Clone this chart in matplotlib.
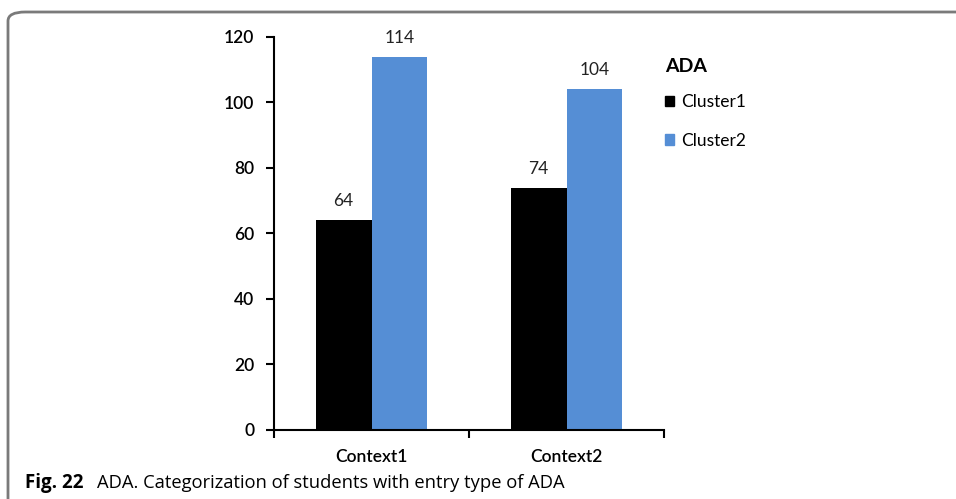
import numpy as np
import matplotlib
matplotlib.use('Agg')
import matplotlib.pyplot as plt
from matplotlib.patches import FancyBboxPatch, Patch

contexts = ['Context1', 'Context2']
series = ['Cluster1', 'Cluster2']
cluster1 = [64, 74]
cluster2 = [114, 104]
colors = ['#000000', '#558ed5']

plt.rcParams['font.family'] = ['Lato', 'DejaVu Sans']

fig = plt.figure(figsize=(9.56, 4.99), dpi=100)
ax = fig.add_axes([0.2866, 0.1383, 0.408, 0.7876])

# rounded figure frame, open on the right and bottom
frame = FancyBboxPatch((8 / 956, -0.2), 1.2, 1.2 - 12 / 499,
                       boxstyle='round,pad=0,rounding_size=0.018',
                       transform=fig.transFigure, fill=False,
                       edgecolor='#7a7a7a', linewidth=2, clip_on=False)
fig.patches.append(frame)

x = np.arange(len(contexts))
w = 0.287
vals = [cluster1, cluster2]
for i, (name, v) in enumerate(zip(series, vals)):
    pos = x + (i - 0.5) * w
    ax.bar(pos, v, w, color=colors[i], label=name, zorder=2)
    for px, pv in zip(pos, v):
        ax.annotate(f'{pv}', (px, pv), xytext=(0, 8), textcoords='offset points',
                    ha='center', va='bottom', fontsize=12.5, color='#222222')

ax.set_xlim(-0.5, 1.5)
ax.set_ylim(0, 120)
ax.set_yticks(range(0, 121, 20))
ax.set_xticks([-0.5, 0.5, 1.5], minor=False)
ax.set_xticklabels([])
ax.set_xticks(x, minor=True)
ax.set_xticklabels(contexts, minor=True, fontsize=12.5, fontweight='semibold')
ax.tick_params(axis='x', which='minor', length=0, pad=14)
ax.tick_params(axis='x', which='major', length=6, width=1.5, direction='out')
ax.tick_params(axis='y', length=6, width=1.5, direction='out', labelsize=12.5, pad=8)
for t in ax.get_yticklabels():
    t.set_fontweight('semibold')
for s in ['top', 'right']:
    ax.spines[s].set_visible(False)
for s in ['left', 'bottom']:
    ax.spines[s].set_linewidth(1.5)

handles = [Patch(color=c, label=n) for c, n in zip(colors, series)]
leg = fig.legend(handles=handles, title='ADA', loc='upper left',
                 bbox_to_anchor=(649 / 956, 1 - 42 / 499), frameon=False,
                 fontsize=12.5, title_fontproperties={'weight': 'bold', 'size': 14},
                 handlelength=0.55, handleheight=0.55, handletextpad=0.4,
                 labelspacing=1.3)
leg._legend_box.align = 'left'
leg._legend_box.sep = 14

fig.text(25 / 956, 0.022, 'Fig. 22', fontsize=13.5, fontweight='bold',
         family=['Open Sans', 'DejaVu Sans'], va='baseline')
fig.text(97 / 956, 0.022, 'ADA. Categorization of students with entry type of ADA',
         fontsize=13.2, family=['Open Sans', 'DejaVu Sans'], va='baseline')

fig.savefig('out.png', dpi=100)
